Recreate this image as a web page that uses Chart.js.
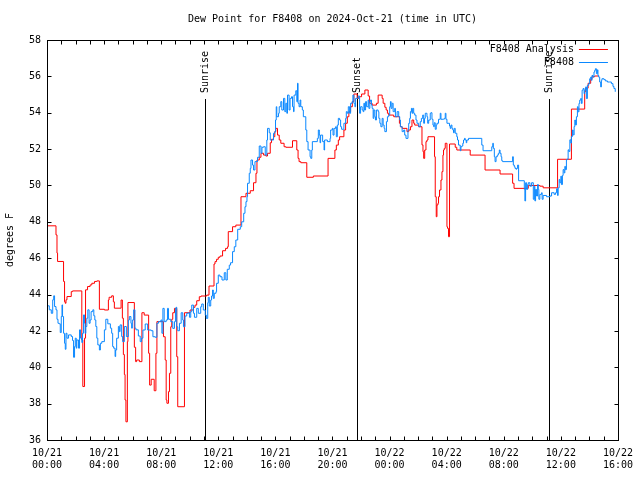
<!DOCTYPE html>
<html>
<head>
<meta charset="utf-8">
<script src="https://cdn.jsdelivr.net/npm/chart.js@4.4.1/dist/chart.umd.min.js"></script>
<style>
  html, body { margin: 0; padding: 0; background: #fff; }
  canvas { display: block; }
</style>
</head>
<body>
<canvas id="dewChart" width="640" height="480"></canvas>
<script>
// hours since 2024-10-21 00:00 UTC
const analysisHours = [
  0.00, 0.63, 0.70, 0.74, 1.16, 1.23, 1.28, 1.33, 1.40, 1.70, 1.79, 2.44, 2.51, 2.63, 2.70, 2.84, 3.02, 3.14, 3.33, 3.49,
  3.67, 4.02, 4.30, 4.35, 4.53, 4.65, 4.72, 5.19, 5.28, 5.35, 5.42, 5.47, 5.53, 5.63, 5.67, 6.12, 6.21, 6.28, 6.47, 6.65,
  6.81, 7.12, 7.19, 7.30, 7.51, 7.63, 7.70, 8.16, 8.28, 8.35, 8.40, 8.51, 8.58, 8.67, 8.74, 8.81, 8.93, 9.09, 9.16, 9.63,
  10.02, 10.26, 10.37, 10.49, 10.67, 10.79, 11.19, 11.35, 11.70, 11.77, 11.88, 12.00, 12.12, 12.30, 12.51, 12.65, 12.70, 13.00, 13.23, 13.59,
  13.94, 14.24, 14.47, 14.64, 14.71, 14.87, 14.99, 15.17, 15.33, 15.45, 15.64, 15.73, 15.87, 15.96, 16.03, 16.15, 16.27, 16.38, 16.61, 16.73,
  17.20, 17.50, 17.59, 17.66, 17.78, 18.20, 18.66, 19.69, 20.17, 20.27, 20.41, 20.50, 20.80, 20.92, 21.04, 21.15, 21.27, 21.39, 21.50, 21.73,
  21.85, 22.04, 22.27, 22.50, 22.60, 22.78, 23.08, 23.20, 23.48, 23.55, 23.67, 23.76, 23.85, 23.94, 24.29, 24.69, 24.76, 24.88, 25.22, 25.34,
  25.46, 25.57, 25.69, 25.76, 26.04, 26.27, 26.34, 26.39, 26.46, 26.55, 26.62, 26.69, 27.15, 27.20, 27.27, 27.32, 27.39, 27.43, 27.50, 27.60,
  27.67, 27.74, 27.78, 27.83, 27.90, 28.02, 28.06, 28.13, 28.20, 28.60, 28.71, 29.65, 30.69, 31.74, 32.62, 32.72, 33.72, 34.53, 34.76, 35.77,
  36.74, 37.67, 37.74, 37.91, 38.09, 38.18, 38.37, 38.65
];
const analysisDewpt = [
  47.78, 47.28, 46.28, 45.82, 44.72, 43.60, 43.52, 43.71, 43.89, 44.16, 44.20, 41.50, 38.94, 41.60, 44.26, 44.44, 44.53, 44.62, 44.72, 44.75,
  43.19, 43.15, 43.70, 43.85, 43.93, 43.60, 43.25, 43.70, 42.70, 40.70, 39.60, 38.20, 37.00, 41.41, 43.56, 41.10, 40.31, 40.40, 40.31, 43.00,
  42.87, 40.77, 39.02, 39.34, 38.71, 40.77, 42.51, 41.68, 40.40, 38.20, 38.02, 38.66, 39.67, 42.23, 42.64, 43.00, 43.24, 40.58, 37.83, 43.00,
  43.15, 43.30, 43.42, 43.66, 43.88, 43.92, 43.97, 44.47, 45.68, 45.81, 45.94, 46.05, 46.12, 46.41, 46.54, 46.63, 47.46, 47.73, 47.82, 49.38,
  49.57, 49.71, 50.15, 50.67, 51.40, 51.55, 51.77, 51.67, 51.62, 51.77, 52.35, 52.54, 52.68, 52.96, 53.14, 52.77, 52.50, 52.32, 52.13, 52.10,
  52.46, 51.95, 51.49, 51.31, 51.25, 50.45, 50.52, 51.49, 51.95, 52.22, 52.50, 52.68, 53.05, 53.42, 53.78, 54.06, 54.33, 54.61, 55.03, 54.79,
  54.88, 55.03, 55.25, 54.92, 54.52, 54.42, 54.52, 54.97, 54.79, 54.52, 54.30, 54.15, 53.97, 53.87, 53.78, 53.42, 53.23, 53.14, 52.96, 53.05,
  53.23, 53.60, 53.42, 53.32, 53.23, 52.23, 51.86, 51.49, 51.95, 52.41, 52.50, 52.68, 51.58, 49.38, 48.28, 48.93, 49.02, 49.38, 49.75, 50.30,
  50.76, 51.67, 51.95, 52.04, 52.32, 47.73, 47.64, 47.18, 52.28, 52.10, 51.95, 51.67, 50.85, 50.63, 50.12, 49.84, 50.00, 49.96, 49.87, 51.44,
  54.20, 55.16, 55.35, 55.62, 55.84, 55.98, 56.02, 56.02
];

const stationHours = [
  0.00, 0.16, 0.30, 0.40, 0.47, 0.53, 0.63, 0.70, 0.77, 0.86, 0.93, 1.00, 1.05, 1.09, 1.16, 1.23, 1.28, 1.33, 1.40, 1.51,
  1.70, 1.79, 1.86, 1.93, 1.98, 2.05, 2.09, 2.21, 2.28, 2.35, 2.44, 2.49, 2.56, 2.63, 2.67, 2.72, 2.79, 2.86, 2.95, 3.02,
  3.09, 3.21, 3.28, 3.35, 3.42, 3.49, 3.56, 3.67, 3.74, 3.84, 4.02, 4.12, 4.26, 4.44, 4.53, 4.60, 4.67, 4.77, 4.81, 4.88,
  5.00, 5.07, 5.12, 5.23, 5.30, 5.42, 5.56, 5.70, 5.77, 5.88, 5.93, 5.98, 6.07, 6.16, 6.23, 6.40, 6.53, 6.63,
  6.72, 6.88, 7.05, 7.30, 7.42, 7.58, 7.70, 7.81, 7.98, 8.05, 8.12, 8.21, 8.35, 8.44, 8.51, 8.67, 8.81, 8.93, 9.00, 9.05,
  9.09, 9.16, 9.28, 9.40, 9.51, 9.56, 9.67, 9.79, 9.91, 9.98, 10.07, 10.14, 10.26, 10.33, 10.49, 10.60, 10.77, 10.84, 10.95, 11.09,
  11.16, 11.26, 11.30, 11.37, 11.47, 11.53, 11.60, 11.65, 11.72, 11.84, 11.88, 12.00, 12.12, 12.26, 12.42, 12.53, 12.63, 12.77, 12.86, 13.00,
  13.12, 13.23,
  13.36, 13.54, 13.64, 13.78, 13.87, 13.94, 14.01, 14.05, 14.17, 14.24, 14.29, 14.40, 14.47, 14.57, 14.75, 14.87, 14.99, 15.06, 15.17, 15.29,
  15.40, 15.45, 15.57, 15.64, 15.75, 15.87, 15.96, 16.01, 16.06, 16.10, 16.22, 16.27, 16.38, 16.45, 16.57, 16.66, 16.73, 16.80, 16.85, 16.96,
  17.03, 17.13, 17.20, 17.27, 17.31, 17.43, 17.50, 17.55, 17.59, 17.66, 17.73, 17.78, 17.89, 17.96, 18.13, 18.20, 18.29, 18.43, 18.48, 18.55,
  18.59, 18.94, 19.01, 19.08, 19.13, 19.17, 19.31, 19.41, 19.45, 19.64, 19.83,
  19.87, 19.99, 20.04, 20.11, 20.22, 20.27, 20.34, 20.41, 20.50, 20.57, 20.64, 20.80, 20.92, 20.97, 21.04, 21.11, 21.20, 21.27, 21.38, 21.43,
  21.50, 21.57, 21.62, 21.73, 21.80, 21.90, 21.97, 22.08, 22.15, 22.20, 22.25, 22.32, 22.39, 22.50, 22.55, 22.62, 22.66, 22.73, 22.78, 22.85,
  22.90, 22.97, 23.01, 23.08, 23.20, 23.25, 23.32, 23.39, 23.48, 23.55, 23.62, 23.67, 23.78, 23.85, 23.94, 24.01, 24.06, 24.11, 24.18, 24.25,
  24.36, 24.41, 24.53, 24.64, 24.71, 24.76, 24.88, 24.99, 25.06, 25.15, 25.29, 25.34, 25.41, 25.46, 25.53, 25.57, 25.62, 25.69, 25.76, 25.85,
  25.92, 26.04, 26.15, 26.23, 26.32,
  26.39, 26.45, 26.50, 26.62, 26.67, 26.74, 26.85, 26.90, 26.97, 27.04, 27.09, 27.13, 27.20, 27.27, 27.32, 27.43, 27.55, 27.60, 27.78, 27.83,
  27.90, 27.95, 28.02, 28.20, 28.25, 28.30, 28.37, 28.43, 28.48, 28.53, 28.60, 28.71, 28.76, 28.83, 28.95, 29.00, 29.06, 29.13, 29.18, 29.25,
  29.30, 29.37, 29.41, 29.53, 30.46, 30.55, 31.16, 31.23, 31.27, 31.34, 31.39, 31.46, 31.55, 31.62, 31.69, 31.74, 31.81, 31.86, 31.92, 32.62,
  32.67, 32.74, 32.79, 32.86, 32.90, 32.97, 33.04,
  33.44, 33.48, 33.53, 33.60, 33.67, 33.72, 33.83, 33.95, 34.07, 34.14, 34.18, 34.23, 34.30, 34.37, 34.42, 34.46, 34.53, 34.65, 34.69, 34.76,
  35.00, 35.23, 35.35, 35.53, 35.63, 35.70, 35.77, 35.81, 35.88, 35.93, 36.00, 36.04, 36.11, 36.16, 36.23, 36.28, 36.32, 36.39, 36.46, 36.51,
  36.56, 36.63, 36.70, 36.74, 36.81, 36.86, 36.93, 36.98, 37.02, 37.09, 37.16, 37.21, 37.27, 37.32, 37.39, 37.44, 37.49, 37.56, 37.63, 37.67,
  37.74, 37.79, 37.86, 37.95, 38.02, 38.09, 38.14, 38.18, 38.25, 38.32, 38.37, 38.42, 38.49, 38.56, 38.60, 38.65, 38.72, 38.79, 38.84, 38.88,
  39.02, 39.12, 39.26, 39.42, 39.54, 39.65, 39.72, 39.81
];
const stationDewpt = [
  43.38, 43.16, 42.97, 43.71, 43.93, 43.34, 43.16, 42.64, 42.42, 42.39, 41.91, 42.79, 43.43, 42.79, 41.87, 41.32, 40.99, 41.87, 41.60, 41.78,
  41.69, 41.47, 40.55, 41.14, 41.60, 41.05, 41.50, 41.05, 42.06, 41.60, 41.36, 41.87, 42.88, 42.42, 41.87, 42.24, 42.70, 43.16, 42.42, 42.60,
  43.06, 43.16, 42.83, 42.60, 42.24, 41.60, 41.23, 40.95, 41.32, 41.41, 42.06, 42.64, 42.39, 42.15, 41.87, 41.14, 41.05, 40.59, 40.95, 41.60,
  42.24, 41.96, 42.33, 41.69, 41.41, 42.24, 41.69, 42.60, 42.79, 42.42, 42.15, 42.60, 43.16, 42.15, 42.06, 41.72, 41.41, 41.60,
  42.05, 42.38, 42.05, 42.01, 41.68, 41.65, 42.42, 42.51, 42.60, 41.87, 43.24, 42.51, 42.60, 43.24, 42.64, 42.51, 42.14, 42.51, 43.24, 43.30,
  42.23, 42.01, 42.42, 43.00, 42.60, 42.23, 42.82, 42.97, 43.00, 42.75, 43.06, 43.42, 42.97, 42.75, 43.24, 42.97, 43.33, 43.48, 43.15, 42.87,
  42.69, 43.55, 43.85, 43.37, 43.70, 43.92, 44.25, 43.79, 44.07, 44.16, 44.62, 45.07, 44.98, 44.80, 45.20, 44.80, 45.39, 45.62, 45.75, 46.36,
  46.63, 47.00,
  47.59, 47.73, 48.00, 48.47, 48.83, 49.11, 49.38, 50.12, 50.67, 50.94, 51.40, 51.12, 50.85, 51.31, 51.55, 52.17, 51.77, 52.10, 52.13, 51.67,
  52.50, 53.14, 52.90, 52.50, 52.50, 52.87, 52.96, 53.60, 54.33, 53.78, 53.97, 54.33, 54.61, 54.15, 54.79, 54.06, 54.52, 53.97, 54.97, 54.15,
  54.79, 54.88, 54.33, 54.06, 54.97, 55.21, 54.61, 55.62, 54.52, 54.33, 54.70, 54.33, 54.15, 53.78, 53.05, 52.41, 51.95, 51.58, 51.49, 51.95,
  52.41, 52.59, 53.05, 52.77, 52.35, 52.77, 52.41, 51.95, 52.50, 52.41, 52.59,
  53.05, 53.14, 52.77, 53.14, 53.23, 52.68, 53.32, 53.69, 53.60, 53.23, 53.09, 53.42, 53.69, 54.06, 53.97, 54.33, 53.97, 54.52, 54.61, 54.97,
  54.52, 54.33, 54.79, 54.79, 54.92, 53.97, 54.33, 54.15, 54.06, 54.52, 54.15, 54.61, 54.33, 54.70, 54.24, 54.61, 54.70, 54.42, 54.24, 53.69,
  54.15, 53.78, 53.60, 54.15, 54.06, 53.69, 53.42, 53.23, 53.69, 53.32, 53.14, 52.96, 53.51, 53.78, 53.87, 54.33, 54.61, 54.24, 54.52, 54.06,
  54.24, 53.78, 54.06, 53.78, 53.60, 53.23, 52.96, 53.05, 52.77, 52.59, 53.05, 53.42, 53.69, 54.06, 54.24, 53.97, 54.24, 53.97, 53.87, 53.60,
  53.42, 53.23, 53.51, 53.69, 53.87,
  53.42, 53.69, 53.97, 53.78, 53.42, 53.60, 53.97, 54.00, 53.64, 53.32, 53.23, 53.45, 53.09, 53.32, 53.42, 53.64, 53.97, 53.64, 53.64, 53.69,
  53.97, 53.64, 53.42, 53.27, 53.14, 53.32, 53.14, 53.05, 52.90, 53.14, 52.87, 52.68, 52.50, 52.22, 51.91, 52.13, 52.17, 52.32, 52.50, 52.59,
  52.50, 52.35, 52.50, 52.59, 52.22, 51.91, 52.13, 52.32, 52.04, 51.58, 51.31, 51.58, 51.67, 51.77, 51.95, 51.77, 51.58, 51.36, 51.31, 51.58,
  51.12, 51.03, 50.94, 50.89, 50.94, 51.12, 50.26,
  49.78, 49.15, 50.15, 49.78, 50.05, 50.15, 49.96, 50.15, 49.24, 49.96, 49.15, 49.78, 49.42, 50.05, 49.78, 49.24, 49.51, 49.60, 49.24, 49.45,
  49.38, 49.42, 49.60, 49.51, 49.60, 49.82, 49.45, 49.87, 50.33, 50.15, 50.51, 50.05, 50.55, 50.87, 50.69, 51.05, 50.87, 51.42, 51.45, 51.96,
  51.87, 52.51, 52.33, 52.69, 53.05, 52.78, 53.24, 53.60, 53.33, 53.78, 54.33, 54.05, 54.51, 54.69, 54.78, 54.51, 55.24, 55.33, 55.05, 55.24,
  55.42, 54.78, 55.51, 55.60, 55.87, 55.96, 55.78, 56.05, 55.96, 56.24, 56.33, 56.42, 56.15, 56.36, 56.05, 55.96, 55.69, 55.42, 55.78, 55.87,
  55.82, 55.75, 55.69, 55.69, 55.60, 55.45, 55.33, 55.15
];

const eventHours = [11.10, 21.75, 35.15];
const eventNames = ['Sunrise', 'Sunset', 'Sunrise'];
const dayLabels = ['10/21', '10/22'];
const seriesNames = ['F8408 Analysis', 'F8408'];

const monoFont = '"DejaVu Sans Mono", "Liberation Mono", monospace';

function toPoints(xs, ys) {
  return xs.map((x, i) => ({ x: x, y: ys[i] }));
}

function pad2(n) {
  return (n < 10 ? '0' : '') + n;
}

// gnuplot-ish frame: border, inward ticks, sun lines, legend
const frame = {
  id: 'frame',
  beforeDatasetsDraw(chart) {
    const ctx = chart.ctx, a = chart.chartArea, xs = chart.scales.x;
    ctx.save();
    ctx.strokeStyle = '#000';
    ctx.fillStyle = '#000';
    ctx.lineWidth = 1;
    ctx.font = '10px ' + monoFont;
    eventHours.forEach((h, i) => {
      const px = Math.round(xs.getPixelForValue(h)) + 0.5;
      const lineTop = a.top + (eventNames[i] === 'Sunset' ? 53 : 59);
      ctx.beginPath();
      ctx.moveTo(px, lineTop);
      ctx.lineTo(px, a.bottom);
      ctx.stroke();
      ctx.save();
      ctx.translate(px, a.top + 53);
      ctx.rotate(-Math.PI / 2);
      ctx.textAlign = 'left';
      ctx.textBaseline = 'middle';
      ctx.fillText(eventNames[i], 0, 0);
      ctx.restore();
    });
    ctx.restore();
  },
  afterDatasetsDraw(chart) {
    const ctx = chart.ctx, a = chart.chartArea;
    const xs = chart.scales.x, ys = chart.scales.y;
    const L = Math.round(a.left) + 0.5, R = Math.round(a.right) + 0.5;
    const T = Math.round(a.top) + 0.5, B = Math.round(a.bottom) + 0.5;
    ctx.save();
    ctx.strokeStyle = '#000';
    ctx.lineWidth = 1;
    ctx.strokeRect(L, T, R - L, B - T);
    ctx.beginPath();
    ys.ticks.forEach(t => {
      const py = Math.round(ys.getPixelForValue(t.value)) + 0.5;
      ctx.moveTo(L, py); ctx.lineTo(L + 4, py);
      ctx.moveTo(R, py); ctx.lineTo(R - 4, py);
    });
    for (let h = xs.min; h <= xs.max; h++) {
      const px = Math.round(xs.getPixelForValue(h)) + 0.5;
      ctx.moveTo(px, B); ctx.lineTo(px, B - 4);
      ctx.moveTo(px, T); ctx.lineTo(px, T + 4);
    }
    ctx.stroke();

    // legend, top right inside the plot
    ctx.font = '10px ' + monoFont;
    ctx.fillStyle = '#000';
    ctx.textAlign = 'right';
    ctx.textBaseline = 'middle';
    chart.data.datasets.forEach((ds, i) => {
      const y = Math.round(a.top + 9 + i * 13) + 0.5;
      ctx.fillText(ds.label, a.right - 44, y);
      ctx.strokeStyle = ds.borderColor;
      ctx.beginPath();
      ctx.moveTo(a.right - 39, y);
      ctx.lineTo(a.right - 10, y);
      ctx.stroke();
    });
    ctx.restore();
  }
};

new Chart(document.getElementById('dewChart'), {
  type: 'line',
  data: {
    datasets: [
      {
        label: seriesNames[0],
        data: toPoints(analysisHours, analysisDewpt),
        borderColor: '#ff0000',
        borderWidth: 1,
        pointRadius: 0,
        stepped: true,
        fill: false,
        order: 2
      },
      {
        label: seriesNames[1],
        data: toPoints(stationHours, stationDewpt),
        borderColor: '#0a88ff',
        borderWidth: 1,
        pointRadius: 0,
        stepped: true,
        fill: false,
        order: 1
      }
    ]
  },
  options: {
    responsive: false,
    animation: false,
    devicePixelRatio: 1,
    layout: { padding: { left: 0, right: 20, top: 0, bottom: 0 } },
    plugins: {
      legend: { display: false },
      tooltip: { enabled: false },
      title: {
        display: true,
        fullSize: false,
        text: 'Dew Point for F8408 on 2024-Oct-21 (time in UTC)',
        color: '#000',
        font: { family: monoFont, size: 10, weight: 'normal' },
        padding: { top: 13, bottom: 15 }
      }
    },
    scales: {
      x: {
        type: 'linear',
        min: 0,
        max: 40,
        grid: { display: false, drawTicks: false },
        border: { display: false },
        ticks: {
          stepSize: 4,
          autoSkip: false,
          maxRotation: 0,
          padding: 7,
          color: '#000',
          font: { family: monoFont, size: 10 },
          callback: v => [dayLabels[Math.floor(v / 24)], pad2(v % 24) + ':00']
        },
        afterFit: s => { s.height = 40; }
      },
      y: {
        min: 36,
        max: 58,
        grid: { display: false, drawTicks: false },
        border: { display: false },
        ticks: {
          stepSize: 2,
          padding: 6,
          color: '#000',
          font: { family: monoFont, size: 10 }
        },
        title: {
          display: true,
          text: 'degrees F',
          color: '#000',
          font: { family: monoFont, size: 10 },
          padding: { top: 4, bottom: 0 }
        },
        afterFit: s => { s.width = 47; }
      }
    }
  },
  plugins: [frame]
});
</script>
</body>
</html>
